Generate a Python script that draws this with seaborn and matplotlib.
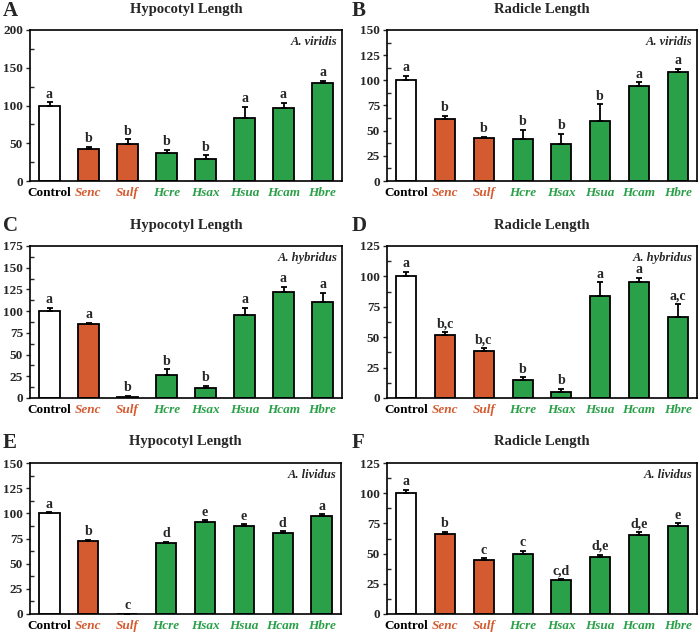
import matplotlib
matplotlib.use("Agg")
import matplotlib.pyplot as plt
import seaborn as sns
import numpy as np
from matplotlib.ticker import MultipleLocator

sns.set_style("white")
plt.rcParams['font.family'] = ['Liberation Serif', 'DejaVu Serif']
plt.rcParams['font.weight'] = 'bold'

categories = ["Control", "Senc", "Sulf", "Hcre", "Hsax", "Hsua", "Hcam", "Hbre"]

a_vals = [100, 43, 49, 37, 29, 83, 97, 130]
a_err = [4, 2, 6, 4, 5, 15, 6, 3]
a_let = ["a", "b", "b", "b", "b", "a", "a", "a"]

b_vals = [100, 62, 43, 42, 37, 60, 94, 108]
b_err = [4, 3, 1, 9, 10, 16, 4, 3]
b_let = ["a", "b", "b", "b", "b", "b", "a", "a"]

c_vals = [100, 85, 1, 27, 11, 95, 122, 110]
c_err = [4, 1.5, 1, 6, 3, 9, 6, 11]
c_let = ["a", "a", "b", "b", "b", "a", "a", "a"]

d_vals = [100, 52, 39, 15, 5, 84, 95, 67]
d_err = [4, 2, 2, 2, 2.5, 11, 4, 10]
d_let = ["a", "b,c", "b,c", "b", "b", "a", "a", "a,c"]

e_vals = [100, 73, 0, 71, 91, 87, 80, 97]
e_err = [1, 1, 0, 1, 2, 2, 2, 2]
e_let = ["a", "b", "c", "d", "e", "e", "d", "a"]

f_vals = [100, 66, 45, 50, 28, 47, 65, 73]
f_err = [3, 2, 1, 2, 1, 2, 2.5, 2]
f_let = ["a", "b", "c", "c", "c,d", "d,e", "d,e", "e"]

WHITE = "#FFFFFF"
ORANGE = "#D45A30"
GREEN = "#2AA048"
bar_colors = [WHITE, ORANGE, ORANGE, GREEN, GREEN, GREEN, GREEN, GREEN]
label_colors = ["black", ORANGE, ORANGE, GREEN, GREEN, GREEN, GREEN, GREEN]

panels = [
    ("A", "Hypocotyl Length", "A. viridis", a_vals, a_err, a_let, 200, 50, 25),
    ("B", "Radicle Length", "A. viridis", b_vals, b_err, b_let, 150, 25, 12.5),
    ("C", "Hypocotyl Length", "A. hybridus", c_vals, c_err, c_let, 175, 25, 12.5),
    ("D", "Radicle Length", "A. hybridus", d_vals, d_err, d_let, 125, 25, 12.5),
    ("E", "Hypocotyl Length", "A. lividus", e_vals, e_err, e_let, 150, 25, 12.5),
    ("F", "Radicle Length", "A. lividus", f_vals, f_err, f_let, 125, 25, 12.5),
]

W, H = 700, 634
fig = plt.figure(figsize=(7, 6.34), dpi=100)

# axes rectangles in pixels: left, top, right, bottom
rects = [
    (30, 30, 342, 181),
    (387, 30, 697, 181),
    (30, 246, 342, 398),
    (387, 246, 697, 398),
    (30, 463, 341, 614),
    (387, 463, 697, 614),
]
title_y = [9, 9, 225, 225, 442, 442]
letter_y = [11, 11, 226, 226, 443, 443]

for (letter, title, species, vals, errs, lets, ymax, major, minor), (l, t, r, b), ty, ly in zip(panels, rects, title_y, letter_y):
    ax = fig.add_axes([l / W, 1 - b / H, (r - l) / W, (b - t) / H])
    sns.barplot(x=categories, y=vals, hue=categories, palette=bar_colors,
                edgecolor="black", linewidth=1.3, width=0.52, legend=False,
                saturation=1, ax=ax)
    x = np.arange(len(categories))
    ax.errorbar(x, vals, yerr=[np.zeros(len(errs)), errs], fmt="none",
                ecolor="black", elinewidth=1.3, capsize=2.5, capthick=1.3)
    for xi, v, e, lt in zip(x, vals, errs, lets):
        ax.text(xi, v + e + ymax * 0.012, lt, ha="center", va="bottom",
                fontsize=10, fontweight="bold")
    ax.set_ylim(0, ymax)
    ax.set_xlim(-0.5, 7.5)
    ax.yaxis.set_major_locator(MultipleLocator(major))
    ax.yaxis.set_minor_locator(MultipleLocator(minor))
    ax.tick_params(axis="y", which="major", direction="out", length=3, width=1,
                   labelsize=9.5, pad=2, left=True)
    ax.tick_params(axis="y", which="minor", direction="in", length=3, width=1, left=True)
    ax.tick_params(axis="x", length=0, pad=4, labelsize=9.5)
    for lab in ax.get_yticklabels():
        lab.set_fontweight("bold")
    ax.set_xticks(x)
    ax.set_xticklabels(categories)
    for lab, col, cat in zip(ax.get_xticklabels(), label_colors, categories):
        lab.set_color(col)
        lab.set_fontweight("bold")
        if cat != "Control":
            lab.set_fontstyle("italic")
    for sp in ax.spines.values():
        sp.set_visible(True)
        sp.set_color("black")
        sp.set_linewidth(1.2)
    ax.set_xlabel("")
    ax.set_ylabel("")
    ax.text(0.985, 0.92, species, transform=ax.transAxes, ha="right", va="center",
            fontsize=9, fontstyle="italic", fontweight="bold")
    cx = (l + r) / 2 / W
    fig.text(cx, 1 - ty / H, title, ha="center", va="center", fontsize=10.5, fontweight="bold")
    fig.text((3 if l < 100 else 352) / W, 1 - ly / H, letter, ha="left", va="center",
             fontsize=15, fontweight="bold")

fig.savefig("out.png", dpi=100)
